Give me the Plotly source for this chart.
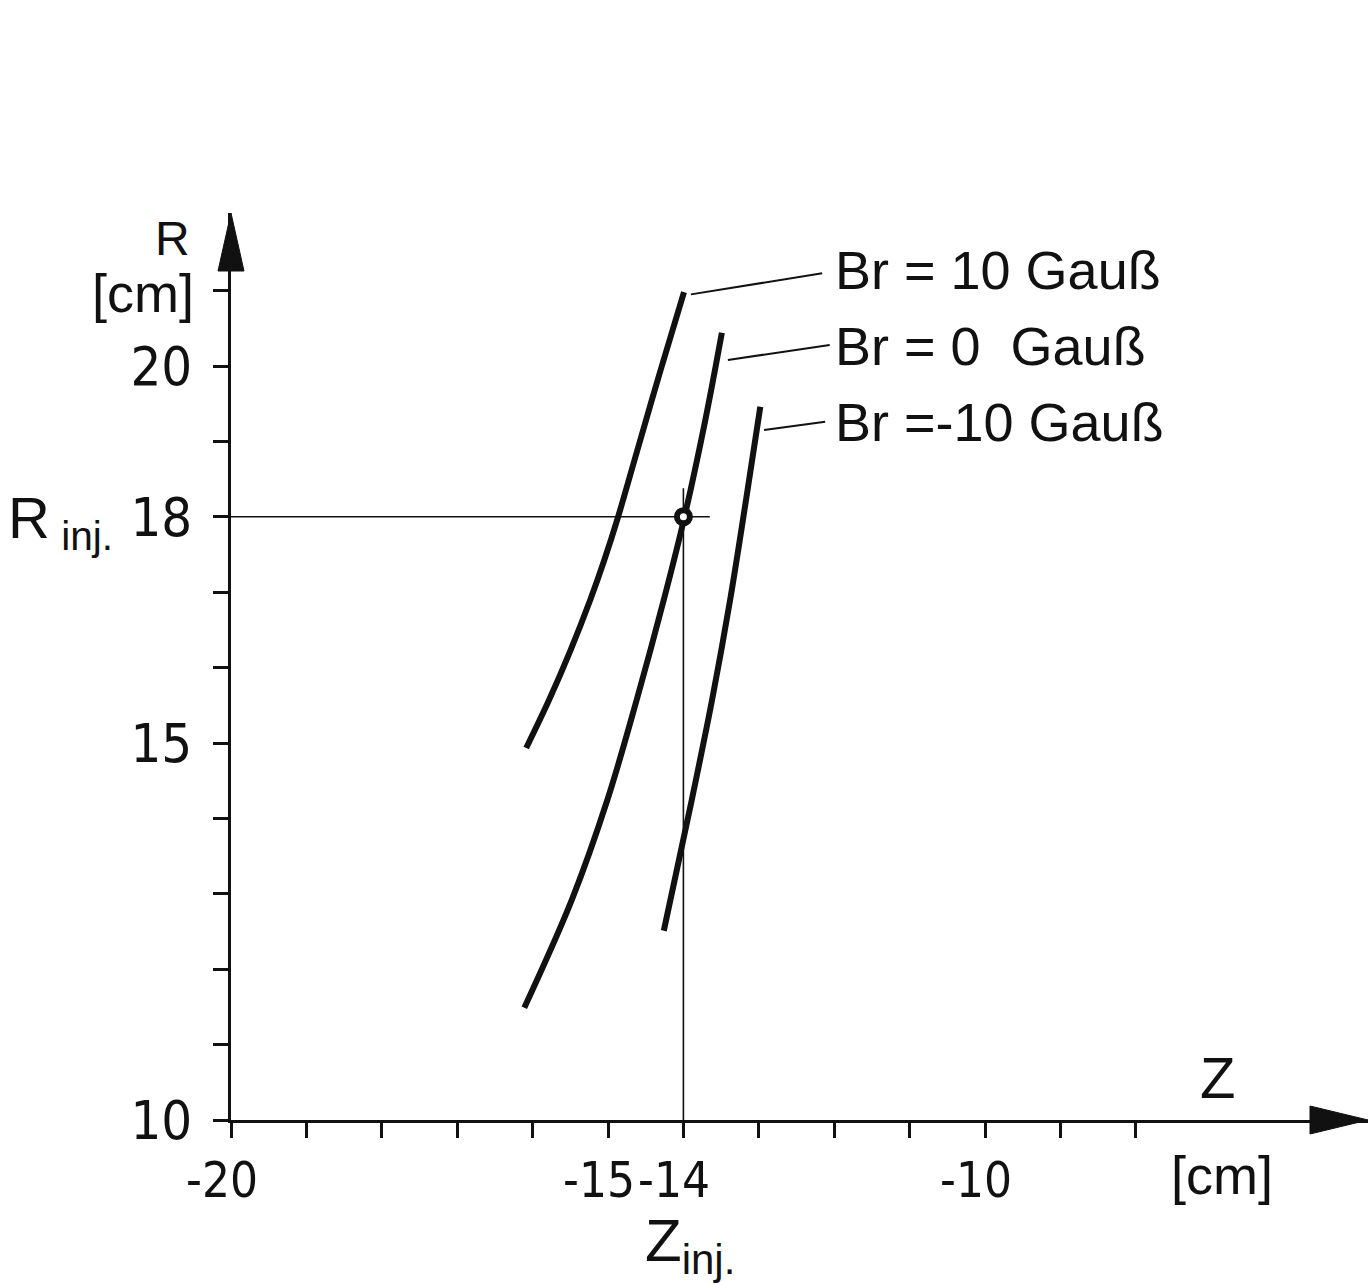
import plotly.graph_objects as go

# ---------------- data ----------------
z_br_p10 = [-16.085, -15.782, -15.496, -15.236, -15.049, -14.867, -14.610, -14.302, -13.992]
r_br_p10 = [14.934, 15.570, 16.233, 16.897, 17.427, 17.997, 18.886, 19.947, 20.981]

z_br_0 = [-16.11, -15.48, -15.01, -14.62, -14.26, -13.99, -13.71, -13.49]
r_br_0 = [11.49, 12.92, 14.24, 15.57, 16.90, 17.98, 19.28, 20.44]

z_br_m10 = [-14.26, -13.89, -13.62, -13.38, -13.17, -12.98]
r_br_m10 = [12.51, 14.24, 15.57, 16.90, 18.22, 19.46]

series_labels = ["Br = 10 Gauß", "Br = 0\u00a0\u00a0Gauß", "Br =-10 Gauß"]
label_z = [-12.02, -12.02, -12.02]
label_r = [21.27, 20.26, 19.26]
leader_start_z = [-13.90, -13.41, -12.93]
leader_start_r = [20.95, 20.08, 19.15]
leader_end_z = [-12.16, -12.06, -12.12]
leader_end_r = [21.23, 20.28, 19.26]

z_inj, r_inj = -14, 18
hline_end_z = -13.65
vline_end_r = 18.38

x_tickvals = list(range(-20, -7))
x_ticklabels = {-20: "-20", -15: "-15", -14: "-14", -10: "-10"}
y_tickvals = list(range(10, 22))
y_ticklabels = {10: "10", 15: "15", 18: "18", 20: "20"}

# ---------------- layout geometry ----------------
W, H = 1371, 1285
ML, MR, MT, MB = 231, 3, 213, 165
PW, PH = W - ML - MR, H - MT - MB
SCALE = 75.4  # pixels per cm on both axes
x_range = [-20, -20 + PW / SCALE]
y_range = [10, 10 + PH / SCALE]

def px(xp):
    return (xp - ML) / PW

def py(yp):
    return (H - MB - yp) / PH

FONT = "Liberation Sans, Arial, sans-serif"
NARROW = "DejaVu Sans Condensed, Liberation Sans, sans-serif"
INK = "#111111"

fig = go.Figure()

curve_style = dict(color=INK, width=6, shape="spline", smoothing=1.0)
for zs, rs in [(z_br_p10, r_br_p10), (z_br_0, r_br_0), (z_br_m10, r_br_m10)]:
    fig.add_trace(go.Scatter(x=zs, y=rs, mode="lines", line=curve_style,
                             hoverinfo="skip", showlegend=False))

# leader lines
for i in range(3):
    fig.add_trace(go.Scatter(x=[leader_start_z[i], leader_end_z[i]],
                             y=[leader_start_r[i], leader_end_r[i]],
                             mode="lines", line=dict(color=INK, width=2),
                             hoverinfo="skip", showlegend=False))

# injection cross-hair
fig.add_trace(go.Scatter(x=[x_range[0], hline_end_z], y=[r_inj, r_inj], mode="lines",
                         line=dict(color=INK, width=1.6), hoverinfo="skip", showlegend=False))
fig.add_trace(go.Scatter(x=[z_inj, z_inj], y=[y_range[0], vline_end_r], mode="lines",
                         line=dict(color=INK, width=1.6), hoverinfo="skip", showlegend=False))
fig.add_trace(go.Scatter(x=[z_inj], y=[r_inj], mode="markers",
                         marker=dict(size=13, color="white", line=dict(color=INK, width=6)),
                         hoverinfo="skip", showlegend=False))

annotations = []
for i, t in enumerate(series_labels):
    annotations.append(dict(x=label_z[i], y=label_r[i], xref="x", yref="y", text=t,
                            showarrow=False, xanchor="left", yanchor="middle",
                            font=dict(size=54, color=INK, family=FONT)))

# x tick labels (right-aligned a little past the tick, minus sign hanging to the left)
for v, t in x_ticklabels.items():
    annotations.append(dict(x=v, y=py(1180), xref="x", yref="paper", text=t,
                            showarrow=False, xanchor="right", yanchor="middle", xshift=28,
                            borderpad=0, font=dict(size=49, color=INK, family=NARROW)))

def ann(text, xp, yp, size, family=FONT):
    annotations.append(dict(x=px(xp), y=py(yp), xref="paper", yref="paper", text=text,
                            showarrow=False, xanchor="center", yanchor="middle",
                            font=dict(size=size, color=INK, family=family)))

ann("R", 172, 238, 48)
ann("[cm]", 143, 293, 54)
ann("R<sub> inj.</sub>", 60, 522, 58)
ann("Z", 1217, 1077, 58)
ann("[cm]", 1222, 1175, 54)
ann("Z<sub>inj.</sub>", 690, 1245, 60)

# arrowheads at the ends of the axes
shapes = [
    dict(type="path", xref="paper", yref="paper", fillcolor=INK, line=dict(color=INK, width=1),
         path=f"M {px(W - 3)},{py(H - MB)} L {px(W - 61)},{py(H - MB - 14)} "
              f"L {px(W - 61)},{py(H - MB + 14)} Z"),
    dict(type="path", xref="paper", yref="paper", fillcolor=INK, line=dict(color=INK, width=1),
         path=f"M {px(ML)},{py(MT)} L {px(ML - 13)},{py(MT + 58)} "
              f"L {px(ML + 13)},{py(MT + 58)} Z"),
]

axis_common = dict(showgrid=False, zeroline=False, showline=True, linecolor=INK, linewidth=3,
                   ticks="outside", ticklen=15, tickwidth=3, tickcolor=INK, automargin=False,
                   tickangle=0, tickfont=dict(size=54, color=INK, family=NARROW), fixedrange=True)

fig.update_layout(
    width=W, height=H,
    margin=dict(l=ML, r=MR, t=MT, b=MB, pad=0, autoexpand=False),
    paper_bgcolor="white", plot_bgcolor="white",
    xaxis=dict(range=x_range, tickmode="array", tickvals=x_tickvals,
               ticktext=["" for v in x_tickvals], **axis_common),
    yaxis=dict(range=y_range, tickmode="array", tickvals=y_tickvals,
               ticktext=[y_ticklabels.get(v, "") for v in y_tickvals],
               ticklabelstandoff=10, **axis_common),
    annotations=annotations,
    shapes=shapes,
    showlegend=False,
)

fig.write_html("out.html", config={"displayModeBar": False},
               post_script="document.body.style.margin='0px';document.body.style.overflow='hidden';")
